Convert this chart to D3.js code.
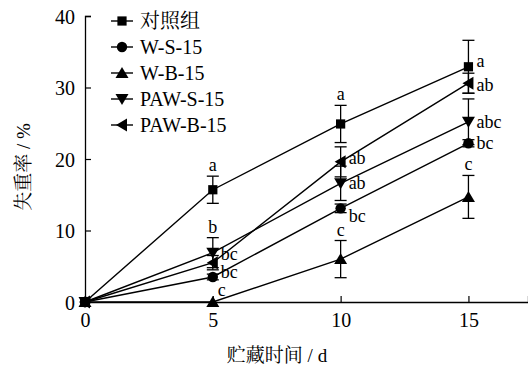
<!DOCTYPE html>
<html>
<head>
<meta charset="utf-8">
<script src="https://cdn.jsdelivr.net/npm/d3@7"></script>
<style>
  html, body { margin: 0; padding: 0; background: #fff; }
  svg { display: block; }
</style>
</head>
<body>
<svg id="chart" width="528" height="367"></svg>
<script>
// Storage time (days)
const days = [0, 5, 10, 15];
const xTicks = [0, 5, 10, 15];
const yTicks = [0, 10, 20, 30, 40];

// Series names (legend order)
const seriesNames = ["对照组", "W-S-15", "W-B-15", "PAW-S-15", "PAW-B-15"];

// Weight loss rate (%)
const controlVals = [0, 15.7, 24.9, 32.9];
const wsVals      = [0, 3.5, 13.1, 22.2];
const wbVals      = [0, 0, 6.0, 14.7];
const pawsVals    = [0, 6.9, 16.6, 25.2];
const pawbVals    = [0, 5.5, 19.6, 30.6];

// Standard deviations
const controlErr = [0, 1.9, 2.6, 3.7];
const wsErr      = [0, 0.4, 0.6, 0.5];
const wbErr      = [0, 0, 2.6, 3.0];
const pawsErr    = [0, 2.1, 2.4, 3.2];
const pawbErr    = [0, 1.0, 2.1, 1.4];

// Significance letters
const controlSig = ["", "a", "a", "a"];
const wsSig      = ["", "bc", "bc", "bc"];
const wbSig      = ["", "c", "c", "c"];
const pawsSig    = ["", "b", "ab", "abc"];
const pawbSig    = ["", "bc", "ab", "ab"];

const seriesVals = [controlVals, wsVals, wbVals, pawsVals, pawbVals];
const seriesErr  = [controlErr, wsErr, wbErr, pawsErr, pawbErr];
const seriesSig  = [controlSig, wsSig, wbSig, pawsSig, pawbSig];

// Letter placement: "top" sits above the upper error cap, otherwise [dx, dy] from the point
const sigPlace = [
  [null, "top", "top", [8, -6]],
  [null, [8, -5], [8, 8], [8, 0]],
  [null, [5, -12], "top", "top"],
  [null, "top", [8, 0], [8, 0]],
  [null, [8, -9], [8, -4], [8, 2]]
];

const LATIN = "Liberation Serif";
const MIXED = "'Liberation Serif', 'Noto Serif CJK SC', serif";

const svg = d3.select("#chart");
const x = d3.scaleLinear().domain([0, 17.33]).range([85, 528]);
const y = d3.scaleLinear().domain([0, 40]).range([302, 16]);

// Axes with inward ticks
const xAxis = d3.axisBottom(x).tickValues(xTicks).tickSize(-6).tickPadding(11).tickFormat(d3.format("d"));
const yAxis = d3.axisLeft(y).tickValues(yTicks).tickSize(-6).tickPadding(10).tickFormat(d3.format("d"));

const gx = svg.append("g").attr("transform", `translate(0,${y(0)})`).call(xAxis);
const gy = svg.append("g").attr("transform", `translate(${x(0)},0)`).call(yAxis);
[gx, gy].forEach(g => {
  g.attr("font-family", LATIN).attr("font-size", 20);
  g.select(".domain").attr("stroke", "#000").attr("stroke-width", 1.3);
  g.selectAll(".tick line").attr("stroke", "#000").attr("stroke-width", 1.2);
  g.selectAll(".tick text").attr("font-family", LATIN).attr("font-size", 20).attr("fill", "#000");
});
gx.selectAll(".tick").filter(d => d === 0).select("line").remove();
gy.selectAll(".tick").filter(d => d === 0).select("line").remove();
gy.selectAll(".tick text").attr("dy", "0.35em");

// Axis titles
svg.append("text")
  .attr("font-family", MIXED)
  .attr("x", 277).attr("y", 362)
  .attr("text-anchor", "middle")
  .attr("font-size", 19)
  .text("贮藏时间 / d");

svg.append("text")
  .attr("font-family", MIXED)
  .attr("transform", "translate(30,167) rotate(-90)")
  .attr("text-anchor", "middle")
  .attr("font-size", 19)
  .text("失重率 / %");

// Marker shapes
const markerPath = [
  d3.symbol().type(d3.symbolSquare).size(85)(),
  d3.symbol().type(d3.symbolCircle).size(85)(),
  "M0,-6L6.5,5L-6.5,5Z",
  "M0,6L6.5,-5L-6.5,-5Z",
  "M-6,0L5,-6.5L5,6.5Z"
];

const line = d3.line().x((d, i) => x(days[i])).y(d => y(d));

// Error bars
seriesVals.forEach((vals, si) => {
  const g = svg.append("g");
  vals.forEach((v, i) => {
    const e = seriesErr[si][i];
    if (!e) return;
    const cx = x(days[i]);
    const y1 = y(v + e), y2 = y(v - e);
    g.append("line").attr("x1", cx).attr("x2", cx).attr("y1", y1).attr("y2", y2)
      .attr("stroke", "#000").attr("stroke-width", 1.3);
    [y1, y2].forEach(yy => g.append("line")
      .attr("x1", cx - 6).attr("x2", cx + 6).attr("y1", yy).attr("y2", yy)
      .attr("stroke", "#000").attr("stroke-width", 1.3));
  });
});

// Lines and markers
seriesVals.forEach((vals, si) => {
  svg.append("path").datum(vals).attr("d", line)
    .attr("fill", "none").attr("stroke", "#000").attr("stroke-width", 1.4);
  svg.append("g").selectAll("path").data(vals).join("path")
    .attr("d", markerPath[si])
    .attr("transform", (d, i) => `translate(${x(days[i])},${y(d)})`)
    .attr("fill", "#000");
});

// Significance letters
seriesVals.forEach((vals, si) => {
  vals.forEach((v, i) => {
    const letter = seriesSig[si][i];
    if (!letter) return;
    const place = sigPlace[si][i];
    const cx = x(days[i]), cy = y(v);
    let tx, ty, anchor;
    if (place === "top") {
      tx = cx; ty = y(v + seriesErr[si][i]) - 5; anchor = "middle";
    } else {
      tx = cx + place[0]; ty = cy + place[1] + 6; anchor = "start";
    }
    svg.append("text").attr("x", tx).attr("y", ty)
      .attr("font-family", LATIN)
      .attr("text-anchor", anchor).attr("font-size", 18).text(letter);
  });
});

// Legend
const legend = svg.append("g");
seriesNames.forEach((name, si) => {
  const ly = 21 + si * 26;
  const row = legend.append("g");
  row.append("line").attr("x1", 111).attr("x2", 133).attr("y1", ly).attr("y2", ly)
    .attr("stroke", "#000").attr("stroke-width", 1.4);
  row.append("path").attr("d", markerPath[si])
    .attr("transform", `translate(122,${ly})`).attr("fill", "#000");
  row.append("text").attr("font-family", MIXED).attr("x", 140).attr("y", ly + 6.5)
    .attr("font-size", 20).text(name);
});
</script>
</body>
</html>
